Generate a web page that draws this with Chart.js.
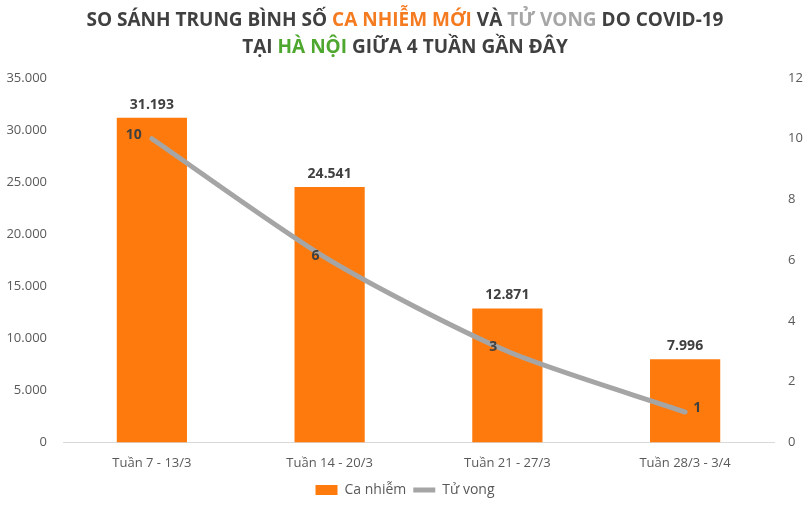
<!DOCTYPE html>
<html>
<head>
<meta charset="utf-8">
<script src="https://cdn.jsdelivr.net/npm/chart.js@4.4.1/dist/chart.umd.min.js"></script>
<style>
  body { margin: 0; background: #fff; }
  #wrap { position: relative; width: 810px; height: 507px; }
  #title {
    position: absolute; top: 6px; left: 0; width: 810px; text-align: center;
    font: bold 19px "Open Sans", sans-serif; color: #404040; line-height: 27px;
  }
  .or { color: #F47B20; }
  .gr { color: #A6A6A6; }
  .gn { color: #4EA72E; }
</style>
</head>
<body>
<div id="wrap">
  <div id="title">
    SO SÁNH TRUNG BÌNH SỐ <span class="or">CA NHIỄM MỚI</span> VÀ <span class="gr">TỬ VONG</span> DO COVID-19<br>
    TẠI <span class="gn">HÀ NỘI</span> GIỮA 4 TUẦN GẦN ĐÂY
  </div>
  <canvas id="chart" width="810" height="507"></canvas>
</div>
<script>
// số liệu
const weeks = ['Tuần 7 - 13/3', 'Tuần 14 - 20/3', 'Tuần 21 - 27/3', 'Tuần 28/3 - 3/4'];
const newCases = [31193, 24541, 12871, 7996];
const deaths = [10, 6, 3, 1];
const leftTicks = [0, 5000, 10000, 15000, 20000, 25000, 30000, 35000];
const rightTicks = [0, 2, 4, 6, 8, 10, 12];

const ORANGE = '#FF7A0D';
const GREY = '#A5A5A5';
const TXT = '#595959';
const FONT = '"Open Sans", sans-serif';

// 31193 -> "31.193"
function fmt(n) {
  return String(n).replace(/\B(?=(\d{3})+(?!\d))/g, '.');
}

// nhãn số liệu cho cột và đường
const labelPlugin = {
  id: 'labels',
  afterDatasetsDraw(chart) {
    const ctx = chart.ctx;
    ctx.save();
    ctx.font = 'bold 14px ' + FONT;
    ctx.fillStyle = '#404040';
    const bars = chart.getDatasetMeta(0).data;
    ctx.textAlign = 'center';
    ctx.textBaseline = 'bottom';
    bars.forEach((b, i) => ctx.fillText(fmt(newCases[i]), b.x, b.y - 6));
    const pts = chart.getDatasetMeta(1).data;
    ctx.textBaseline = 'middle';
    pts.forEach((p, i) => {
      const last = i === pts.length - 1;
      ctx.textAlign = last ? 'left' : 'right';
      ctx.fillText(String(deaths[i]), last ? p.x + 8 : p.x - 10, p.y - 4);
    });
    ctx.restore();
  }
};

new Chart(document.getElementById('chart'), {
  data: {
    labels: weeks,
    datasets: [
      {
        type: 'bar', label: 'Ca nhiễm', data: newCases, yAxisID: 'y',
        backgroundColor: ORANGE, barPercentage: 0.395, categoryPercentage: 1,
        pointStyle: 'rect', order: 2
      },
      {
        type: 'line', label: 'Tử vong', data: deaths, yAxisID: 'y1',
        borderColor: GREY, backgroundColor: GREY, borderWidth: 5, tension: 0.25,
        pointRadius: 0, pointStyle: 'line', borderCapStyle: 'round', order: 1
      }
    ]
  },
  options: {
    responsive: false,
    animation: false,
    layout: { padding: { top: 78, left: 0, right: 0, bottom: 0 } },
    plugins: {
      title: { display: false },
      tooltip: { enabled: false },
      legend: {
        position: 'bottom',
        labels: {
          color: TXT, font: { size: 14, family: FONT },
          usePointStyle: true, boxHeight: 10, pointStyleWidth: 22, padding: 7,
          sort: (a, b) => a.datasetIndex - b.datasetIndex
        }
      }
    },
    scales: {
      x: {
        grid: { display: false },
        border: { display: true, color: '#D9D9D9' },
        ticks: { color: TXT, font: { size: 13, family: FONT }, padding: 5 }
      },
      y: {
        position: 'left', min: 0, max: 35000,
        afterBuildTicks: s => { s.ticks = leftTicks.map(v => ({ value: v })); },
        afterFit: s => { s.width = 63; },
        grid: { display: false, drawTicks: false },
        border: { display: false },
        ticks: { color: TXT, font: { size: 13, family: FONT }, padding: 16, callback: v => fmt(v) }
      },
      y1: {
        position: 'right', min: 0, max: 12,
        afterBuildTicks: s => { s.ticks = rightTicks.map(v => ({ value: v })); },
        afterFit: s => { s.width = 36; },
        grid: { display: false, drawTicks: false },
        border: { display: false },
        ticks: { color: TXT, font: { size: 13, family: FONT }, padding: 14 }
      }
    }
  },
  plugins: [labelPlugin]
});
</script>
</body>
</html>
